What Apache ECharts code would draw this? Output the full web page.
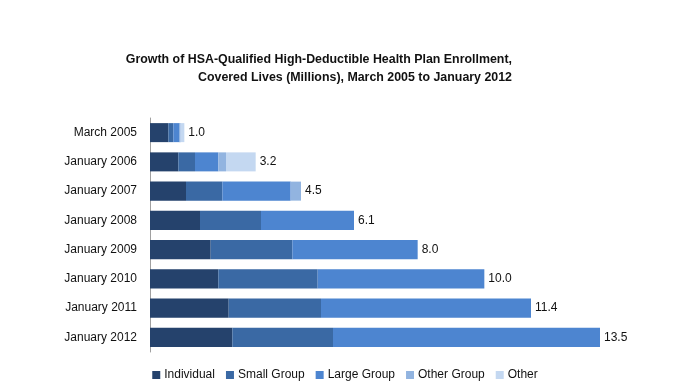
<!DOCTYPE html>
<html><head><meta charset="utf-8">
<script src="https://cdn.jsdelivr.net/npm/echarts@6/dist/echarts.min.js"></script>
<style>html,body{margin:0;padding:0;background:#fff}#c{width:690px;height:386px}</style>
</head><body><div id="c"></div>
<script>
const categories = ['March 2005','January 2006','January 2007','January 2008','January 2009','January 2010','January 2011','January 2012'];
const individual = [0.55, 0.85, 1.08, 1.50, 1.82, 2.05, 2.36, 2.47];
const smallGroup = [0.15, 0.50, 1.09, 1.83, 2.45, 2.98, 2.77, 3.02];
const largeGroup = [0.17, 0.70, 2.05, 2.79, 3.76, 5.00, 6.30, 8.01];
const otherGroup = [0.05, 0.23, 0.31, 0, 0, 0, 0, 0];
const other = [0.11, 0.89, 0, 0, 0, 0, 0, 0];
const totals = ['1.0','3.2','4.5','6.1','8.0','10.0','11.4','13.5'];
const seriesNames = ['Individual','Small Group','Large Group','Other Group','Other'];
const titleLines = ['Growth of HSA-Qualified High-Deductible Health Plan Enrollment,','Covered Lives (Millions), March 2005 to January 2012'];
const colors = ['#25426C','#3A69A4','#4D85D0','#92B4E0','#C4D8F1'];
const FONT = "'Liberation Sans',Arial,sans-serif";

const chart = echarts.init(document.getElementById('c'));
const dataSets = [individual, smallGroup, largeGroup, otherGroup, other];
const series = dataSets.map((d,i)=>({
  name: seriesNames[i], type:'bar', stack:'t', data:d, barCategoryGap:'35%',
  itemStyle:{color:colors[i]}
}));
series.push({
  name:'Total', type:'bar', stack:'t', data:categories.map(()=>0),
  itemStyle:{color:'transparent'},
  label:{show:true, position:'right', distance:4, fontFamily:FONT, fontSize:12, color:'#111',
    formatter:p=>totals[p.dataIndex]}
});
chart.setOption({
  animation:false,
  color:colors,
  graphic:titleLines.map((t,i)=>({
    type:'text', right:178, top:54+i*18,
    style:{text:t, fontFamily:FONT, fontSize:12.4, fontWeight:'bold', fill:'#111'}
  })),
  legend:{
    data:seriesNames, bottom:0, left:'center', icon:'rect', itemWidth:8, itemHeight:8, itemGap:11,
    textStyle:{fontFamily:FONT, fontSize:12, color:'#111', padding:[0,0,0,-1]}
  },
  grid:{left:150, right:40, top:118, bottom:34, containLabel:false},
  xAxis:{type:'value', min:0, max:15, show:false},
  yAxis:{type:'category', data:categories, inverse:true,
    axisLine:{lineStyle:{color:'#A0A0A0', width:1}}, axisTick:{show:false},
    axisLabel:{fontFamily:FONT, fontSize:12, color:'#111', margin:13}
  },
  series:series
});
</script></body></html>
